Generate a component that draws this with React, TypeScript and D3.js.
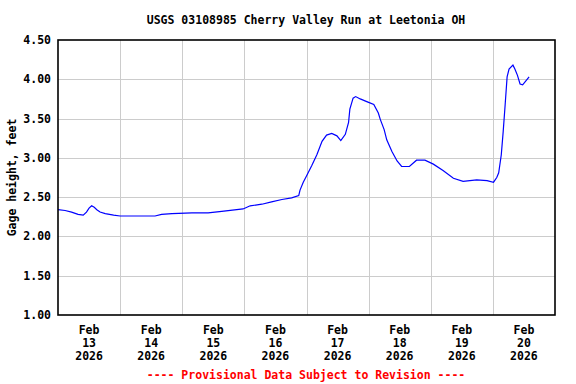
import React from 'react';
import * as d3 from 'd3';

// Gage height readings, Feb 13-20 2026
const times = [
  '02-13 00:00', '02-13 02:45', '02-13 05:15', '02-13 07:45', '02-13 09:45', '02-13 11:00',
  '02-13 12:00', '02-13 13:00', '02-13 14:00', '02-13 15:00', '02-13 16:15', '02-13 18:15',
  '02-13 21:30', '02-14 00:00', '02-14 13:30', '02-14 16:00', '02-14 20:00', '02-15 03:45',
  '02-15 10:00', '02-15 15:15', '02-15 23:30', '02-16 02:15', '02-16 06:45', '02-16 10:30',
  '02-16 14:30', '02-16 18:15', '02-16 21:00', '02-16 21:30', '02-16 22:45', '02-17 00:00',
  '02-17 02:00', '02-17 04:00', '02-17 06:00', '02-17 07:45', '02-17 09:45', '02-17 11:45',
  '02-17 13:15', '02-17 15:00', '02-17 16:15', '02-17 16:45', '02-17 18:00', '02-17 19:00',
  '02-17 20:45', '02-17 23:45', '02-18 02:00', '02-18 03:45', '02-18 04:30', '02-18 06:00',
  '02-18 07:00', '02-18 09:00', '02-18 11:00', '02-18 12:45', '02-18 15:45', '02-18 18:30',
  '02-18 21:45', '02-19 01:00', '02-19 04:45', '02-19 08:45', '02-19 12:30', '02-19 17:45',
  '02-19 21:45', '02-20 00:15', '02-20 01:30', '02-20 02:15', '02-20 03:15', '02-20 04:00',
  '02-20 04:45', '02-20 05:30', '02-20 06:15', '02-20 07:45', '02-20 08:30', '02-20 09:30',
  '02-20 10:30', '02-20 11:30', '02-20 12:45', '02-20 14:00',
];
const heights = [
  2.34, 2.33, 2.31, 2.28, 2.27, 2.31,
  2.36, 2.39, 2.37, 2.34, 2.31, 2.29,
  2.27, 2.26, 2.26, 2.28, 2.29, 2.30,
  2.30, 2.32, 2.35, 2.39, 2.41, 2.44,
  2.47, 2.49, 2.52, 2.59, 2.69, 2.77,
  2.90, 3.04, 3.21, 3.29, 3.31, 3.28,
  3.22, 3.30, 3.45, 3.62, 3.76, 3.78,
  3.75, 3.71, 3.68, 3.57, 3.49, 3.36,
  3.23, 3.08, 2.96, 2.89, 2.89, 2.97,
  2.97, 2.92, 2.84, 2.74, 2.70, 2.72,
  2.71, 2.69, 2.75, 2.81, 3.04, 3.34,
  3.68, 4.03, 4.13, 4.18, 4.13, 4.05,
  3.94, 3.93, 3.98, 4.03,
];
const yTicks = [1.0, 1.5, 2.0, 2.5, 3.0, 3.5, 4.0, 4.5];
const dayLabels = ['13', '14', '15', '16', '17', '18', '19', '20'];

const title = 'USGS 03108985 Cherry Valley Run at Leetonia OH';
const yLabel = 'Gage height, feet';
const footer = '---- Provisional Data Subject to Revision ----';

const W = 576;
const H = 384;
const margin = { top: 40, right: 21, bottom: 69, left: 58 };
const FONT = '"DejaVu Sans Mono", monospace';

const parse = (s: string) => d3.timeParse('%Y-%m-%d %H:%M')('2026-' + s) as Date;

export default function App() {
  const data = times.map((t, i) => ({ date: parse(t), value: heights[i] }));
  const x = d3
    .scaleTime()
    .domain([parse('02-13 00:00'), parse('02-21 00:00')])
    .range([margin.left, W - margin.right]);
  const y = d3.scaleLinear().domain([1, 4.5]).range([H - margin.bottom, margin.top]);

  const line = d3
    .line<{ date: Date; value: number }>()
    .x((d) => x(d.date))
    .y((d) => y(d.value));

  const midnights = d3.range(1, 8).map((d) => x(parse(`02-${13 + d} 00:00`)));
  const noons = dayLabels.map((d) => parse(`02-${d} 12:00`));

  return (
    <svg
      width={W}
      height={H}
      style={{ position: 'absolute', left: 0, top: 0, background: '#fff' }}
      fontFamily={FONT}
      fontWeight="bold"
    >
      <text x={306} y={24} textAnchor="middle" fontSize={11.5} fill="#000">
        {title}
      </text>

      {/* grid */}
      <g stroke="#cccccc" strokeWidth={1} shapeRendering="crispEdges">
        {yTicks.slice(1, -1).map((t) => (
          <line key={t} x1={margin.left} x2={W - margin.right} y1={Math.round(y(t)) + 0.5} y2={Math.round(y(t)) + 0.5} />
        ))}
        {midnights.map((mx, i) => (
          <line key={i} x1={Math.round(mx) + 0.5} x2={Math.round(mx) + 0.5} y1={margin.top} y2={H - margin.bottom} />
        ))}
      </g>

      {/* data */}
      <path d={line(data) || ''} fill="none" stroke="#0000ff" strokeWidth={1.2} />

      {/* frame */}
      <rect
        x={margin.left}
        y={margin.top}
        width={W - margin.left - margin.right}
        height={H - margin.top - margin.bottom}
        fill="none"
        stroke="#000"
        strokeWidth={1.6}
      />

      {/* y ticks */}
      {yTicks.map((t) => (
        <text key={t} x={51} y={y(t) + 4} textAnchor="end" fontSize={11.5} fill="#000">
          {t.toFixed(2)}
        </text>
      ))}
      <text
        transform={`translate(16,${(margin.top + H - margin.bottom) / 2}) rotate(-90)`}
        textAnchor="middle"
        fontSize={11.5}
        fill="#000"
      >
        {yLabel}
      </text>

      {/* x ticks */}
      {noons.map((d, i) => (
        <text key={i} x={x(d)} textAnchor="middle" fontSize={11.5} fill="#000">
          <tspan x={x(d)} y={334}>Feb</tspan>
          <tspan x={x(d)} y={347}>{dayLabels[i]}</tspan>
          <tspan x={x(d)} y={360}>2026</tspan>
        </text>
      ))}

      <text x={306} y={379} textAnchor="middle" fontSize={11.5} fill="#ff0000">
        {footer}
      </text>
    </svg>
  );
}
